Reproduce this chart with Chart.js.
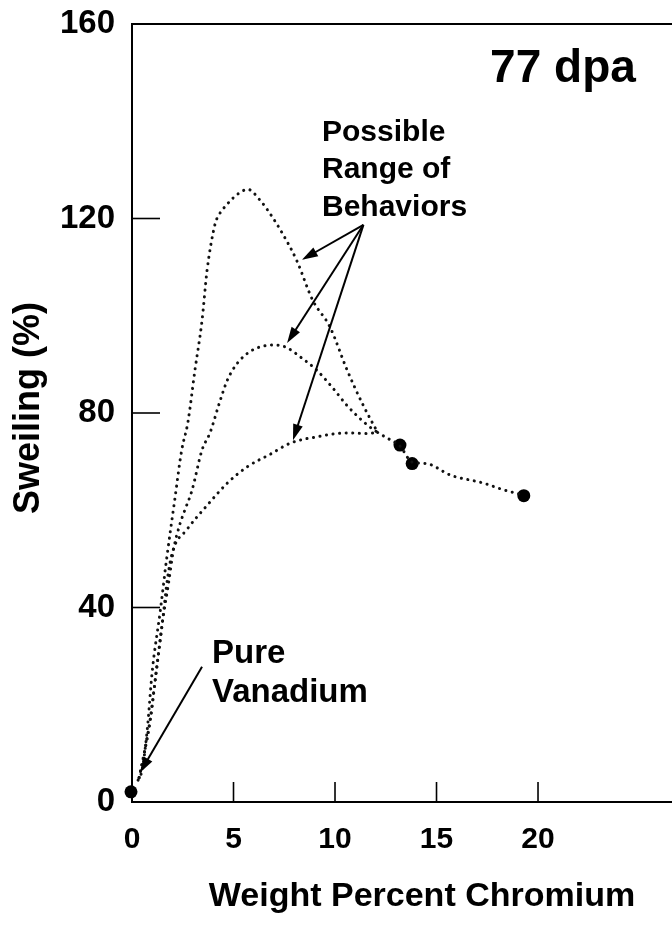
<!DOCTYPE html>
<html>
<head>
<meta charset="utf-8">
<script src="https://cdn.jsdelivr.net/npm/chart.js@4"></script>
<style>
  html, body { margin: 0; padding: 0; background: #fff; }
  canvas { display: block; }
</style>
</head>
<body>
<canvas id="graficoInchamento" width="672" height="935"></canvas>
<script>
// valores (x = % peso de cromo, y = inchamento %)
const xTicks = [0, 5, 10, 15, 20];
const yTicks = [0, 40, 80, 120, 160];

const xAlta = [0.3, 0.5, 0.75, 1.0, 1.4, 1.7, 2.1, 2.45, 2.75, 3.1, 3.45, 3.7, 4.1, 4.25, 4.7, 5.2, 5.7, 6.3, 6.8, 7.4, 8.1, 8.9, 9.75, 10.6, 11.4, 12.1];
const yAlta = [4.5, 6.6, 14.8, 27, 39.5, 49.8, 62, 72.4, 78, 88.8, 99, 109.4, 119, 120.5, 123, 125, 126, 123.8, 121, 117, 111.5, 103.2, 97.7, 88.8, 81.5, 76];

const xMedia = [0.35, 0.6, 0.9, 1.2, 1.5, 1.8, 2.05, 2.35, 2.6, 2.95, 3.45, 3.85, 4.3, 4.7, 5.2, 5.8, 6.4, 7.0, 7.6, 8.3, 9.1, 9.9, 10.6, 11.6, 12.1];
const yMedia = [5, 10, 17, 27, 37, 45, 52, 57, 60, 64, 72.4, 76, 82, 86.8, 90.3, 92.6, 93.7, 94, 93.5, 91.5, 88.8, 85.1, 81.5, 77.5, 76];

const xBaixa = [0.35, 0.6, 0.9, 1.2, 1.5, 1.75, 2.0, 2.7, 3.7, 4.7, 5.7, 6.8, 7.8, 9.1, 10.6, 11.6, 12.1];
const yBaixa = [5, 10, 17, 27, 37, 46, 51.5, 56, 61, 65.6, 69, 71.5, 73.8, 75.1, 75.9, 75.8, 76];

const xCauda = [12.1, 12.5, 13.2, 13.8, 14.5, 15.7, 17.3, 18.3, 19.3];
const yCauda = [76, 75, 73.2, 69.9, 69.6, 67.2, 65.6, 64.2, 63.1];

const xMedidos = [-0.2, -0.05, 13.2, 13.8, 19.3];
const yMedidos = [4.1, 2.1, 73.4, 69.6, 63.0];

const FONTE = '"Liberation Sans", Arial, Helvetica, sans-serif';

function pontos(xs, ys) {
  return xs.map((v, i) => ({ x: v, y: ys[i] }));
}

function curvaPontilhada(xs, ys) {
  return {
    data: pontos(xs, ys),
    showLine: true,
    borderColor: '#111',
    borderWidth: 3,
    borderDash: [0.1, 6.5],
    borderCapStyle: 'round',
    cubicInterpolationMode: 'monotone',
    pointRadius: 0,
    clip: false
  };
}

function seta(ctx, x0, y0, x1, y1) {
  const ang = Math.atan2(y1 - y0, x1 - x0);
  const comp = 16, meia = 5;
  const cos = Math.cos(ang), sin = Math.sin(ang);
  ctx.beginPath();
  ctx.moveTo(x0, y0);
  ctx.lineTo(x1 - cos * comp * 0.8, y1 - sin * comp * 0.8);
  ctx.stroke();
  ctx.beginPath();
  ctx.moveTo(x1, y1);
  ctx.lineTo(x1 - cos * comp + sin * meia, y1 - sin * comp - cos * meia);
  ctx.lineTo(x1 - cos * comp - sin * meia, y1 - sin * comp + cos * meia);
  ctx.closePath();
  ctx.fill();
}

const anotacoes = {
  id: 'anotacoes',
  afterDraw(chart) {
    const { ctx, chartArea: area, scales: { x, y } } = chart;
    const px = (v) => x.getPixelForValue(v);
    const py = (v) => y.getPixelForValue(v);

    ctx.save();
    ctx.strokeStyle = '#000';
    ctx.fillStyle = '#000';

    // moldura de cima
    ctx.lineWidth = 2;
    ctx.beginPath();
    ctx.moveTo(area.left, area.top);
    ctx.lineTo(area.right, area.top);
    ctx.stroke();

    // marcas para dentro
    ctx.lineWidth = 1.6;
    yTicks.filter((v) => v > 0 && v < 160).forEach((v) => {
      ctx.beginPath();
      ctx.moveTo(area.left, py(v));
      ctx.lineTo(area.left + 28, py(v));
      ctx.stroke();
    });
    xTicks.filter((v) => v > 0).forEach((v) => {
      ctx.beginPath();
      ctx.moveTo(px(v), area.bottom);
      ctx.lineTo(px(v), area.bottom - 20);
      ctx.stroke();
    });

    // setas
    ctx.lineWidth = 2;
    seta(ctx, px(11.4), py(118.7), px(8.37), py(111.5));
    seta(ctx, px(11.4), py(118.7), px(7.64), py(94.4));
    seta(ctx, px(11.4), py(118.7), px(7.93), py(74.4));
    seta(ctx, px(3.45), py(27.8), px(0.39), py(6.0));

    // textos
    ctx.textAlign = 'left';
    ctx.textBaseline = 'alphabetic';
    ctx.font = 'bold 46px ' + FONTE;
    ctx.fillText('77 dpa', px(17.64), py(148.1));

    ctx.font = 'bold 30px ' + FONTE;
    ctx.fillText('Possible', px(9.36), py(135.9));
    ctx.fillText('Range of', px(9.36), py(128.3));
    ctx.fillText('Behaviors', px(9.36), py(120.5));

    ctx.font = 'bold 33px ' + FONTE;
    ctx.fillText('Pure', px(3.94), py(28.6));
    ctx.fillText('Vanadium', px(3.94), py(20.6));

    // titulos dos eixos
    ctx.textAlign = 'center';
    ctx.textBaseline = 'middle';
    ctx.font = 'bold 34px ' + FONTE;
    ctx.fillText('Weight Percent Chromium', 422, 897);

    ctx.translate(29, 408);
    ctx.rotate(-Math.PI / 2);
    ctx.font = 'bold 36px ' + FONTE;
    ctx.fillText('Sweiling (%)', 0, 0);

    ctx.restore();
  }
};

new Chart(document.getElementById('graficoInchamento'), {
  type: 'scatter',
  data: {
    datasets: [
      curvaPontilhada(xAlta, yAlta),
      curvaPontilhada(xMedia, yMedia),
      curvaPontilhada(xBaixa, yBaixa),
      curvaPontilhada(xCauda, yCauda),
      {
        data: pontos(xMedidos, yMedidos),
        pointRadius: 6.5,
        pointBackgroundColor: '#000',
        pointBorderColor: '#000',
        pointBorderWidth: 0,
        clip: false
      }
    ]
  },
  options: {
    responsive: false,
    animation: false,
    devicePixelRatio: 1,
    layout: { autoPadding: false, padding: { top: 24, right: 0, left: 0, bottom: 0 } },
    plugins: { legend: { display: false }, tooltip: { enabled: false } },
    scales: {
      x: {
        type: 'linear',
        min: 0,
        max: 26.6,
        afterBuildTicks: (s) => { s.ticks = xTicks.map((v) => ({ value: v })); },
        afterFit: (s) => { s.height = 133; s.paddingLeft = 0; s.paddingRight = 0; },
        grid: { display: false, drawTicks: false },
        border: { display: true, color: '#000', width: 2 },
        ticks: { color: '#000', padding: 20, maxRotation: 0, font: { family: FONTE, size: 30, weight: 'bold' } }
      },
      y: {
        type: 'linear',
        min: 0,
        max: 160,
        afterBuildTicks: (s) => { s.ticks = yTicks.map((v) => ({ value: v })); },
        afterFit: (s) => { s.width = 132; s.paddingTop = 0; s.paddingBottom = 0; },
        grid: { display: false, drawTicks: false },
        border: { display: true, color: '#000', width: 2 },
        ticks: { color: '#000', padding: 17, font: { family: FONTE, size: 33, weight: 'bold' } }
      }
    }
  },
  plugins: [anotacoes]
});
</script>
</body>
</html>
